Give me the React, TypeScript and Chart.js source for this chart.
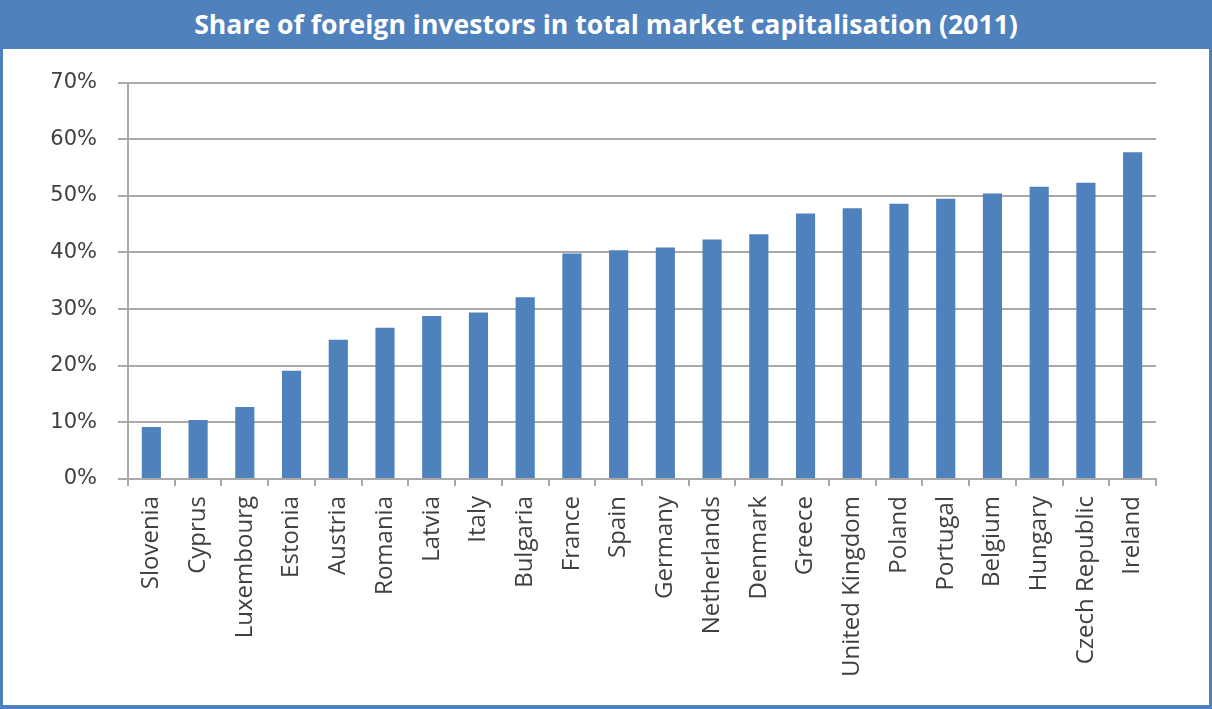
import React, { useEffect, useRef } from "react";
import { Chart, registerables } from "chart.js";

Chart.register(...registerables);

const TITLE = "Share of foreign investors in total market capitalisation (2011)";

const countries = [
  "Slovenia", "Cyprus", "Luxembourg", "Estonia", "Austria", "Romania", "Latvia",
  "Italy", "Bulgaria", "France", "Spain", "Germany", "Netherlands", "Denmark",
  "Greece", "United Kingdom", "Poland", "Portugal", "Belgium", "Hungary",
  "Czech Republic", "Ireland",
];

const shares = [
  9.2, 10.4, 12.7, 19.1, 24.6, 26.7, 28.8, 29.4, 32.1, 39.8, 40.4, 40.9, 42.3,
  43.2, 46.9, 47.8, 48.6, 49.5, 50.4, 51.6, 52.3, 57.7,
];

const yMin = 0;
const yMax = 70;
const yStep = 10;

const BLUE = "#4f81bd";
const GRID = "#a9a9a9";
const TEXT = "#404040";

export default function App() {
  const ref = useRef<HTMLCanvasElement>(null);

  useEffect(() => {
    const chart = new Chart(ref.current!, {
      type: "bar",
      data: {
        labels: countries,
        datasets: [
          {
            data: shares,
            backgroundColor: BLUE,
            barPercentage: 0.41,
            categoryPercentage: 1,
          },
        ],
      },
      options: {
        animation: false,
        responsive: false,
        maintainAspectRatio: false,
        layout: { padding: { top: 31, right: 53, left: 0, bottom: 0 } },
        plugins: { legend: { display: false }, tooltip: { enabled: false } },
        scales: {
          x: {
            grid: {
              drawOnChartArea: false,
              drawTicks: true,
              tickLength: 7,
              color: GRID,
              lineWidth: 2,
              offset: true,
            },
            border: { color: GRID, width: 2 },
            ticks: {
              autoSkip: false,
              minRotation: 90,
              maxRotation: 90,
              padding: 10,
              color: TEXT,
              font: { family: "Open Sans", size: 24 },
            },
            afterFit: (s: any) => {
              s.height = 226;
            },
          },
          y: {
            min: yMin,
            max: yMax,
            ticks: {
              stepSize: yStep,
              padding: 21,
              color: TEXT,
              font: { family: "DejaVu Sans", size: 21 },
              callback: (v: any) => v + "%",
            },
            grid: { tickLength: 10, color: GRID, lineWidth: 2 },
            border: { color: GRID, width: 2 },
            afterFit: (s: any) => {
              s.width = 125;
            },
          },
        },
      },
    });
    return () => chart.destroy();
  }, []);

  return (
    <div
      style={{
        position: "absolute",
        left: 0,
        top: 0,
        width: 1212,
        height: 709,
        background: BLUE,
        overflow: "hidden",
      }}
    >
      <div
        style={{
          position: "absolute",
          left: 0,
          top: 0,
          width: 1212,
          height: 47,
          display: "flex",
          alignItems: "center",
          justifyContent: "center",
          color: "#ffffff",
          fontFamily: "'Open Sans', sans-serif",
          fontWeight: 700,
          fontSize: 26.6,
        }}
      >
        {TITLE}
      </div>
      <div
        style={{
          position: "absolute",
          left: 3,
          top: 49,
          width: 1206,
          height: 656,
          background: "#ffffff",
        }}
      >
        <canvas ref={ref} width={1206} height={656} style={{ display: "block" }} />
      </div>
    </div>
  );
}
